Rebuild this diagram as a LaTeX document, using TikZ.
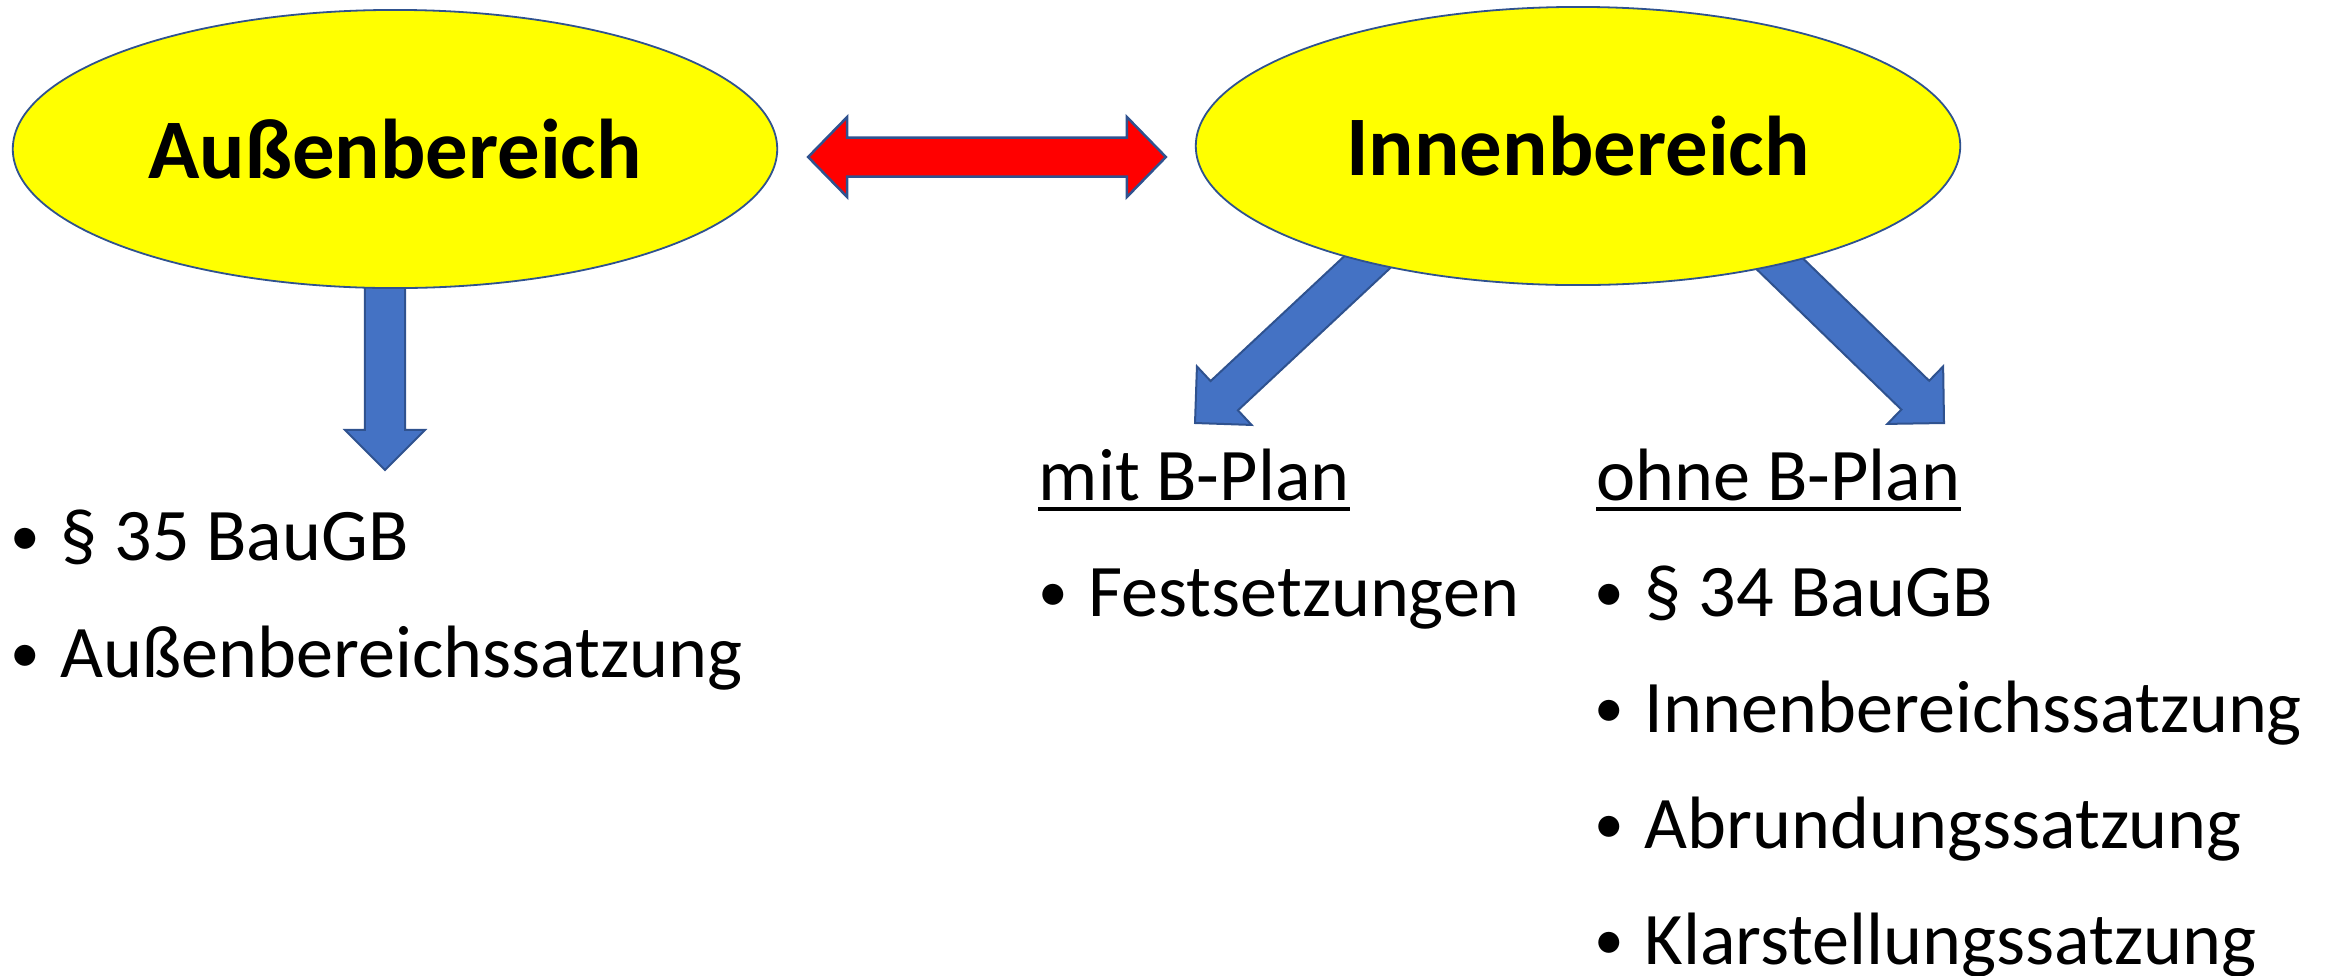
\documentclass[tikz,border=0pt]{standalone}
\usepackage{fontspec}
\usepackage{graphicx}
\setmainfont{Carlito}
\usetikzlibrary{shapes.geometric,calc,backgrounds}

\definecolor{gelb}{HTML}{FFFF00}
\definecolor{pfeilblau}{HTML}{4472C4}
\definecolor{randblau}{HTML}{2F528F}
\definecolor{rot}{HTML}{FF0000}

\begin{document}
\begin{tikzpicture}[x=0.01cm,y=-0.01cm,
  bereich/.style={ellipse,draw=randblau,line width=0.018cm,fill=gelb,
    minimum width=7.64cm,minimum height=2.78cm,inner sep=0pt,
    font=\fontsize{24.1}{29}\selectfont\bfseries},
  head/.style={anchor=base west,inner sep=0pt,font=\fontsize{21.1}{25}\selectfont},
  item/.style={head,execute at begin node={\llap{\raisebox{0.05cm}{\scalebox{0.8}{•}}\hspace{0.21cm}}}},
  unterstrich/.style={line width=0.04cm},
  blockpfeil/.style={fill=pfeilblau,draw=randblau,line width=0.02cm},
  doppelpfeil/.style={fill=rot,draw=randblau,line width=0.025cm}]
\useasboundingbox (0,0) rectangle (2325,975);

% the two areas
\node[bereich] (aussen) at (395,149) {Außenbereich};
\node[bereich] (innen) at (1578,146) {Innenbereich};

% left list
\node[item] (a35) at (60,560) {§ 35 BauGB};
\node[item] (asatz) at ([yshift=-1.17cm]a35.base west) {Außenbereichssatzung};

% middle list
\node[head] (mit) at (1038,500) {mit B-Plan};
\draw[unterstrich] ([yshift=-0.09cm]mit.base west) -- ([yshift=-0.09cm]mit.base east);
\node[item] (fest) at (1088,616) {Festsetzungen};

% right list
\node[head] (ohne) at (1596,500) {ohne B-Plan};
\draw[unterstrich] ([yshift=-0.09cm]ohne.base west) -- ([yshift=-0.09cm]ohne.base east);
\node[item] (r34) at (1644,616) {§ 34 BauGB};
\node[item] (rinnen) at ([yshift=-1.16cm]r34.base west) {Innenbereichssatzung};
\node[item] (rabr) at ([yshift=-1.16cm]rinnen.base west) {Abrundungssatzung};
\node[item] (rklar) at ([yshift=-1.16cm]rabr.base west) {Klarstellungssatzung};

% red double arrow between the areas
\coordinate (dl) at ($(aussen.east)+(30,8)$);
\coordinate (dr) at ($(innen.west)+(-29,11)$);
\draw[doppelpfeil] (dl) -- ++(39,-40) -- ++(0,20.5) -- ($(dr)+(-39,-19.5)$) -- ++(0,-20.5)
  -- (dr) -- ++(-39,40) -- ++(0,-20.5) -- ($(dl)+(39,19.5)$) -- ++(0,20.5) -- cycle;

% blue arrows, tails hidden under the ellipses
\coordinate (ta) at ($(aussen.center)+(-10,60)$);
\coordinate (pa) at (385,470);
\coordinate (tl) at ($(innen.center)+(-186,93)$);
\coordinate (pl) at (1195,423);
\coordinate (tr) at ($(innen.center)+(172,89)$);
\coordinate (pr) at (1944,423);
\begin{scope}[on background layer]
\foreach \von/\nach in {ta/pa,tl/pl,tr/pr}
  \draw[blockpfeil] let \p1=(\von), \p2=(\nach), \n1={atan2(\y2-\y1,\x2-\x1)} in
    (\nach) -- ($(\nach)+(\n1+180:0.4cm)+(\n1+90:0.4cm)$)
    -- ($(\nach)+(\n1+180:0.4cm)+(\n1+90:0.2cm)$)
    -- ($(\von)+(\n1+90:0.2cm)$) -- ($(\von)+(\n1-90:0.2cm)$)
    -- ($(\nach)+(\n1+180:0.4cm)+(\n1-90:0.2cm)$)
    -- ($(\nach)+(\n1+180:0.4cm)+(\n1-90:0.4cm)$) -- cycle;
\end{scope}
\end{tikzpicture}
\end{document}
